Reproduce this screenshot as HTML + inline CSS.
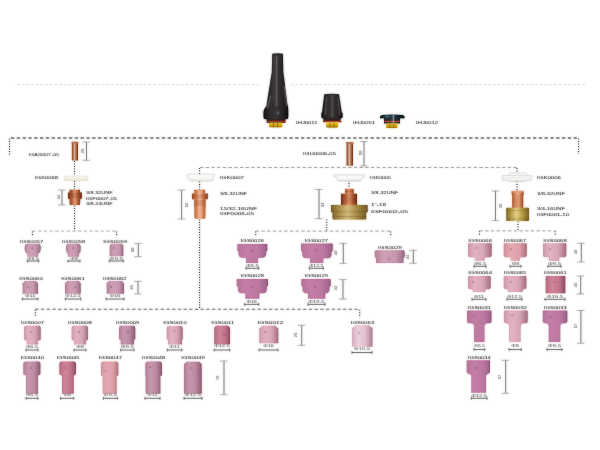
<!DOCTYPE html><html><head><meta charset="utf-8"><style>html,body{margin:0;padding:0;background:#fff;width:600px;height:450px;overflow:hidden}#wrap{width:600px;height:450px}svg{display:block;will-change:transform;font-family:"Liberation Sans",sans-serif}</style></head><body><div id="wrap">
<svg width="600" height="450" viewBox="0 0 600 450">
<defs>
<linearGradient id="pk1" x1="0" x2="1" y1="0" y2="0"><stop offset="0" stop-color="#b48298"/><stop offset="0.3" stop-color="#d0a0b8"/><stop offset="0.7" stop-color="#c698ae"/><stop offset="0.92" stop-color="#a47690"/><stop offset="1" stop-color="#8a6076"/></linearGradient>
<linearGradient id="pk2" x1="0" x2="1" y1="0" y2="0"><stop offset="0" stop-color="#b47498"/><stop offset="0.3" stop-color="#c47ea6"/><stop offset="0.7" stop-color="#bc78a0"/><stop offset="0.92" stop-color="#a46890"/><stop offset="1" stop-color="#8c5478"/></linearGradient>
<linearGradient id="pk3" x1="0" x2="1" y1="0" y2="0"><stop offset="0" stop-color="#cc98aa"/><stop offset="0.3" stop-color="#e4b2c4"/><stop offset="0.65" stop-color="#d8a6b8"/><stop offset="0.9" stop-color="#b47e90"/><stop offset="1" stop-color="#9a6a7a"/></linearGradient>
<linearGradient id="pk7" x1="0" x2="1" y1="0" y2="0"><stop offset="0" stop-color="#d4acbe"/><stop offset="0.3" stop-color="#ecd0dc"/><stop offset="0.65" stop-color="#e2c0d0"/><stop offset="0.9" stop-color="#bc90a4"/><stop offset="1" stop-color="#a07a8a"/></linearGradient>
<linearGradient id="pk8" x1="0" x2="1" y1="0" y2="0"><stop offset="0" stop-color="#b86080"/><stop offset="0.15" stop-color="#d08098"/><stop offset="0.5" stop-color="#dea2b4"/><stop offset="0.85" stop-color="#d698ac"/><stop offset="1" stop-color="#b07088"/></linearGradient>
<linearGradient id="pk6" x1="0" x2="1" y1="0" y2="0"><stop offset="0" stop-color="#b07c94"/><stop offset="0.3" stop-color="#c898b0"/><stop offset="0.65" stop-color="#bc8aa2"/><stop offset="0.9" stop-color="#9a6680"/><stop offset="1" stop-color="#86586e"/></linearGradient>
<linearGradient id="pk4" x1="0" x2="1" y1="0" y2="0"><stop offset="0" stop-color="#cc9098"/><stop offset="0.3" stop-color="#e6aab4"/><stop offset="0.7" stop-color="#dca0aa"/><stop offset="0.92" stop-color="#bc7e88"/><stop offset="1" stop-color="#9a646c"/></linearGradient>
<linearGradient id="pk5" x1="0" x2="1" y1="0" y2="0"><stop offset="0" stop-color="#b46a80"/><stop offset="0.35" stop-color="#d28499"/><stop offset="0.7" stop-color="#c2748a"/><stop offset="0.9" stop-color="#9e5a6e"/><stop offset="1" stop-color="#864a5e"/></linearGradient>
<linearGradient id="cu" x1="0" x2="1" y1="0" y2="0"><stop offset="0" stop-color="#9a5028"/><stop offset="0.3" stop-color="#d8845a"/><stop offset="0.5" stop-color="#f4bc9c"/><stop offset="0.75" stop-color="#c87044"/><stop offset="1" stop-color="#8e4622"/></linearGradient>
<linearGradient id="cut" x1="0" x2="1" y1="0" y2="0"><stop offset="0" stop-color="#7a3c20"/><stop offset="0.22" stop-color="#a8603c"/><stop offset="0.45" stop-color="#ead0c0"/><stop offset="0.6" stop-color="#b8704c"/><stop offset="0.85" stop-color="#8a4828"/><stop offset="1" stop-color="#6a3018"/></linearGradient>
<linearGradient id="cud" x1="0" x2="1" y1="0" y2="0"><stop offset="0" stop-color="#7a3418"/><stop offset="0.3" stop-color="#bc6438"/><stop offset="0.5" stop-color="#e09870"/><stop offset="0.75" stop-color="#a85430"/><stop offset="1" stop-color="#6a2e14"/></linearGradient>
<linearGradient id="brd" x1="0" x2="1" y1="0" y2="0"><stop offset="0" stop-color="#7a6028"/><stop offset="0.25" stop-color="#b09450"/><stop offset="0.45" stop-color="#d4bc7c"/><stop offset="0.7" stop-color="#a88c44"/><stop offset="1" stop-color="#705824"/></linearGradient>
<linearGradient id="cr" x1="0" x2="0" y1="0" y2="1"><stop offset="0" stop-color="#fcfbf4"/><stop offset="0.6" stop-color="#f3f1e4"/><stop offset="1" stop-color="#e2dcc8"/></linearGradient>
<linearGradient id="br" x1="0" x2="1" y1="0" y2="0"><stop offset="0" stop-color="#806826"/><stop offset="0.25" stop-color="#c0a650"/><stop offset="0.45" stop-color="#e4d088"/><stop offset="0.7" stop-color="#b89c44"/><stop offset="1" stop-color="#786022"/></linearGradient>
<linearGradient id="gd" x1="0" x2="0" y1="0" y2="1"><stop offset="0" stop-color="#f0d030"/><stop offset="0.6" stop-color="#d8a810"/><stop offset="1" stop-color="#a07808"/></linearGradient>
<linearGradient id="bk" x1="0" x2="1" y1="0" y2="0"><stop offset="0" stop-color="#151212"/><stop offset="0.25" stop-color="#2e2a2a"/><stop offset="0.5" stop-color="#3a3636"/><stop offset="0.75" stop-color="#2a2626"/><stop offset="1" stop-color="#121010"/></linearGradient>
<linearGradient id="bl" x1="0" x2="1" y1="0" y2="0"><stop offset="0" stop-color="#0c1416"/><stop offset="0.3" stop-color="#2a4450"/><stop offset="0.6" stop-color="#1c3038"/><stop offset="1" stop-color="#0a1012"/></linearGradient>
<linearGradient id="wh" x1="0" x2="0" y1="0" y2="1"><stop offset="0" stop-color="#ffffff"/><stop offset="0.65" stop-color="#f8f8f6"/><stop offset="1" stop-color="#e0e0dc"/></linearGradient>
</defs>
<filter id="sb" x="-2%" y="-2%" width="104%" height="104%"><feGaussianBlur stdDeviation="0.8"/></filter>
<g id="content">
<line x1="17" y1="84.7" x2="260" y2="84.7" stroke="#dcdcdc" stroke-width="1.0" stroke-dasharray="2.5 2.2" opacity="1"/>
<line x1="291" y1="84.7" x2="585" y2="84.7" stroke="#dcdcdc" stroke-width="1.0" stroke-dasharray="2.5 2.2" opacity="1"/>
<line x1="11" y1="138" x2="579" y2="138" stroke="#7a7a7a" stroke-width="1.3" stroke-dasharray="3.3 2.5" opacity="1"/>
<line x1="9.5" y1="138.5" x2="9.5" y2="155.5" stroke="#404040" stroke-width="1.1" stroke-dasharray="1 1.5"/>
<line x1="578.5" y1="138.5" x2="578.5" y2="154" stroke="#404040" stroke-width="1.1" stroke-dasharray="1 1.5"/>
<path d="M82.5 142H90M82.5 160.3H90" stroke="#a0a0a0" stroke-width="0.7" fill="none"/>
<path d="M86.5 142V160.3" stroke="#858585" stroke-width="0.95" fill="none"/>
<line x1="74.5" y1="161" x2="74.5" y2="176" stroke="#404040" stroke-width="1.1" stroke-dasharray="1 1.5"/>
<line x1="74.5" y1="181" x2="74.5" y2="190" stroke="#404040" stroke-width="1.1" stroke-dasharray="1 1.5"/>
<path d="M58 190H65.5M58 205H65.5" stroke="#a0a0a0" stroke-width="0.7" fill="none"/>
<path d="M62 190V205" stroke="#858585" stroke-width="0.95" fill="none"/>
<line x1="74.5" y1="205.5" x2="74.5" y2="231" stroke="#404040" stroke-width="1.1" stroke-dasharray="1 1.5"/>
<line x1="32.4" y1="231.2" x2="116.7" y2="231.2" stroke="#c8c8c8" stroke-width="1.2" stroke-dasharray="3.3 2.4" opacity="1"/>
<line x1="32.4" y1="231.5" x2="32.4" y2="236" stroke="#404040" stroke-width="1.1" stroke-dasharray="1 1.5"/>
<line x1="116.7" y1="231.5" x2="116.7" y2="236" stroke="#404040" stroke-width="1.1" stroke-dasharray="1 1.5"/>
<path d="M27.3 261H38.7M27.3 259.6V262.4M38.7 259.6V262.4" stroke="#505050" stroke-width="0.7" fill="none"/>
<path d="M68 261H80M68 259.6V262.4M80 259.6V262.4" stroke="#505050" stroke-width="0.7" fill="none"/>
<path d="M109.3 261H123.3M109.3 259.6V262.4M123.3 259.6V262.4" stroke="#505050" stroke-width="0.7" fill="none"/>
<path d="M134.3 243.4H141.8M134.3 256.7H141.8" stroke="#a0a0a0" stroke-width="0.7" fill="none"/>
<path d="M138.3 243.4V256.7" stroke="#858585" stroke-width="0.95" fill="none"/>
<path d="M22.3 299H38M22.3 297.6V300.4M38 297.6V300.4" stroke="#505050" stroke-width="0.7" fill="none"/>
<path d="M65.3 299H80.7M65.3 297.6V300.4M80.7 297.6V300.4" stroke="#505050" stroke-width="0.7" fill="none"/>
<path d="M106 299H124M106 297.6V300.4M124 297.6V300.4" stroke="#505050" stroke-width="0.7" fill="none"/>
<path d="M134 281.3H141.5M134 294H141.5" stroke="#a0a0a0" stroke-width="0.7" fill="none"/>
<path d="M138 281.3V294" stroke="#858585" stroke-width="0.95" fill="none"/>
<line x1="200" y1="167.5" x2="517" y2="167.5" stroke="#ababab" stroke-width="1.2" stroke-dasharray="3.3 2.4" opacity="1"/>
<line x1="199.6" y1="168" x2="199.6" y2="174" stroke="#404040" stroke-width="1.1" stroke-dasharray="1 1.5"/>
<line x1="199.6" y1="181.5" x2="199.6" y2="190" stroke="#404040" stroke-width="1.1" stroke-dasharray="1 1.5"/>
<path d="M177.6 190H185.1M177.6 219H185.1" stroke="#a0a0a0" stroke-width="0.7" fill="none"/>
<path d="M181.6 190V219" stroke="#858585" stroke-width="0.95" fill="none"/>
<line x1="199.6" y1="219.5" x2="199.6" y2="309" stroke="#404040" stroke-width="1.1" stroke-dasharray="1 1.5"/>
<path d="M360 141.5H367.5M360 166H367.5" stroke="#a0a0a0" stroke-width="0.7" fill="none"/>
<path d="M364 141.5V166" stroke="#858585" stroke-width="0.95" fill="none"/>
<line x1="349" y1="180.5" x2="349" y2="187" stroke="#404040" stroke-width="1.1" stroke-dasharray="1 1.5"/>
<path d="M315 189.5H322.5M315 218.7H322.5" stroke="#a0a0a0" stroke-width="0.7" fill="none"/>
<path d="M319 189.5V218.7" stroke="#858585" stroke-width="0.95" fill="none"/>
<line x1="326.7" y1="219.5" x2="326.7" y2="231" stroke="#404040" stroke-width="1.1" stroke-dasharray="1 1.5"/>
<line x1="255.7" y1="231.2" x2="390.8" y2="231.2" stroke="#bdbdbd" stroke-width="1.2" stroke-dasharray="3.3 2.4" opacity="1"/>
<line x1="255.7" y1="231.5" x2="255.7" y2="235.5" stroke="#404040" stroke-width="1.1" stroke-dasharray="1 1.5"/>
<line x1="390.8" y1="231.5" x2="390.8" y2="235.5" stroke="#404040" stroke-width="1.1" stroke-dasharray="1 1.5"/>
<path d="M246 268.3H258.7M246 266.9V269.7M258.7 266.9V269.7" stroke="#505050" stroke-width="0.7" fill="none"/>
<path d="M309.3 268.3H323.3M309.3 266.9V269.7M323.3 266.9V269.7" stroke="#505050" stroke-width="0.7" fill="none"/>
<path d="M339.3 243.4H346.8M339.3 263.4H346.8" stroke="#a0a0a0" stroke-width="0.7" fill="none"/>
<path d="M343.3 243.4V263.4" stroke="#858585" stroke-width="0.95" fill="none"/>
<path d="M409.3 250.3H416.8M409.3 263.3H416.8" stroke="#a0a0a0" stroke-width="0.7" fill="none"/>
<path d="M413.3 250.3V263.3" stroke="#858585" stroke-width="0.95" fill="none"/>
<path d="M244.7 304.4H258.7M244.7 303V305.8M258.7 303V305.8" stroke="#505050" stroke-width="0.7" fill="none"/>
<path d="M308 304.4H325M308 303V305.8M325 303V305.8" stroke="#505050" stroke-width="0.7" fill="none"/>
<path d="M339 279.6H346.5M339 299H346.5" stroke="#a0a0a0" stroke-width="0.7" fill="none"/>
<path d="M343 279.6V299" stroke="#858585" stroke-width="0.95" fill="none"/>
<line x1="35.3" y1="309.25" x2="359.7" y2="309.25" stroke="#7c7c7c" stroke-width="1.2" stroke-dasharray="3.3 2.4" opacity="1"/>
<line x1="35.3" y1="309.8" x2="35.3" y2="317" stroke="#404040" stroke-width="1.1" stroke-dasharray="1 1.5"/>
<line x1="359.7" y1="309.8" x2="359.7" y2="317.5" stroke="#404040" stroke-width="1.1" stroke-dasharray="1 1.5"/>
<path d="M26 350H38M26 348.6V351.4M38 348.6V351.4" stroke="#505050" stroke-width="0.7" fill="none"/>
<path d="M74 350H86M74 348.6V351.4M86 348.6V351.4" stroke="#505050" stroke-width="0.7" fill="none"/>
<path d="M120.7 350H134M120.7 348.6V351.4M134 348.6V351.4" stroke="#505050" stroke-width="0.7" fill="none"/>
<path d="M167.3 350H182M167.3 348.6V351.4M182 348.6V351.4" stroke="#505050" stroke-width="0.7" fill="none"/>
<path d="M214.2 350H229.7M214.2 348.6V351.4M229.7 348.6V351.4" stroke="#505050" stroke-width="0.7" fill="none"/>
<path d="M259 350H278M259 348.6V351.4M278 348.6V351.4" stroke="#505050" stroke-width="0.7" fill="none"/>
<path d="M297.7 325.3H305.2M297.7 345.3H305.2" stroke="#a0a0a0" stroke-width="0.7" fill="none"/>
<path d="M301.7 325.3V345.3" stroke="#858585" stroke-width="0.95" fill="none"/>
<path d="M352 352.5H372M352 351.1V353.9M372 351.1V353.9" stroke="#505050" stroke-width="0.7" fill="none"/>
<path d="M26 398.3H38M26 396.9V399.7M38 396.9V399.7" stroke="#505050" stroke-width="0.7" fill="none"/>
<path d="M60.7 398.3H73.7M60.7 396.9V399.7M73.7 396.9V399.7" stroke="#505050" stroke-width="0.7" fill="none"/>
<path d="M103.3 398.3H117.3M103.3 396.9V399.7M117.3 396.9V399.7" stroke="#505050" stroke-width="0.7" fill="none"/>
<path d="M145 398.3H160M145 396.9V399.7M160 396.9V399.7" stroke="#505050" stroke-width="0.7" fill="none"/>
<path d="M184 398.3H202M184 396.9V399.7M202 396.9V399.7" stroke="#505050" stroke-width="0.7" fill="none"/>
<path d="M220 361H227.5M220 394.7H227.5" stroke="#a0a0a0" stroke-width="0.7" fill="none"/>
<path d="M224 361V394.7" stroke="#858585" stroke-width="0.95" fill="none"/>
<line x1="517" y1="168" x2="517" y2="173" stroke="#404040" stroke-width="1.1" stroke-dasharray="1 1.5"/>
<line x1="517" y1="181.5" x2="517" y2="191" stroke="#404040" stroke-width="1.1" stroke-dasharray="1 1.5"/>
<path d="M491.5 191H499M491.5 220.5H499" stroke="#a0a0a0" stroke-width="0.7" fill="none"/>
<path d="M495.5 191V220.5" stroke="#858585" stroke-width="0.95" fill="none"/>
<line x1="518" y1="221.5" x2="518" y2="231" stroke="#404040" stroke-width="1.1" stroke-dasharray="1 1.5"/>
<line x1="479.5" y1="230.9" x2="555.2" y2="230.9" stroke="#bdbdbd" stroke-width="1.2" stroke-dasharray="3.3 2.4" opacity="1"/>
<line x1="479.5" y1="231.2" x2="479.5" y2="235.3" stroke="#404040" stroke-width="1.1" stroke-dasharray="1 1.5"/>
<line x1="555.2" y1="231.2" x2="555.2" y2="235.3" stroke="#404040" stroke-width="1.1" stroke-dasharray="1 1.5"/>
<path d="M474 266.3H486M474 264.9V267.7M486 264.9V267.7" stroke="#505050" stroke-width="0.7" fill="none"/>
<path d="M510 266.3H521M510 264.9V267.7M521 264.9V267.7" stroke="#505050" stroke-width="0.7" fill="none"/>
<path d="M548 266.3H561M548 264.9V267.7M561 264.9V267.7" stroke="#505050" stroke-width="0.7" fill="none"/>
<path d="M577.3 243.3H584.8M577.3 262H584.8" stroke="#a0a0a0" stroke-width="0.7" fill="none"/>
<path d="M581.3 243.3V262" stroke="#858585" stroke-width="0.95" fill="none"/>
<path d="M472 299.3H486M472 297.9V300.7M486 297.9V300.7" stroke="#505050" stroke-width="0.7" fill="none"/>
<path d="M507 299.3H522M507 297.9V300.7M522 297.9V300.7" stroke="#505050" stroke-width="0.7" fill="none"/>
<path d="M545 299.3H565M545 297.9V300.7M565 297.9V300.7" stroke="#505050" stroke-width="0.7" fill="none"/>
<path d="M576.7 276H584.2M576.7 294H584.2" stroke="#a0a0a0" stroke-width="0.7" fill="none"/>
<path d="M580.7 276V294" stroke="#858585" stroke-width="0.95" fill="none"/>
<path d="M474 349.5H484.7M474 348.1V350.9M484.7 348.1V350.9" stroke="#505050" stroke-width="0.7" fill="none"/>
<path d="M509 349.5H521.3M509 348.1V350.9M521.3 348.1V350.9" stroke="#505050" stroke-width="0.7" fill="none"/>
<path d="M547 349.5H562M547 348.1V350.9M562 348.1V350.9" stroke="#505050" stroke-width="0.7" fill="none"/>
<path d="M576.9 310.5H584.4M576.9 343.2H584.4" stroke="#a0a0a0" stroke-width="0.7" fill="none"/>
<path d="M580.9 310.5V343.2" stroke="#858585" stroke-width="0.95" fill="none"/>
<path d="M471.3 398.3H487M471.3 396.9V399.7M487 396.9V399.7" stroke="#505050" stroke-width="0.7" fill="none"/>
<path d="M501.7 360.3H509.2M501.7 393.3H509.2" stroke="#a0a0a0" stroke-width="0.7" fill="none"/>
<path d="M505.7 360.3V393.3" stroke="#858585" stroke-width="0.95" fill="none"/>
<path d="M266.7 118.5H285.3V122.8H266.7Z" fill="#231c1c"/>
<rect x="267" y="120.8" width="18.5" height="1.1" fill="#c03020"/>
<rect x="269" y="122.8" width="13.3" height="4.4" rx="1.2" fill="url(#gd)"/>
<path d="M273.3 123V127.2M277.5 123V127.2" stroke="#6a4a00" stroke-width="0.8"/>
<path d="M272.2 53.8Q277.5 52.8 282.9 53.8L283.3 72L287.4 104Q288.3 107 288.3 110V117Q288.3 119.3 285.3 119.3H266.7Q263.5 119.3 263.5 117V111.5Q263.8 108.8 266.3 106.5L271.8 72Z" fill="url(#bk)"/>
<path d="M276.6 56V106M284.2 86L287 106M270.5 96L267.5 108" stroke="#8a8686" stroke-width="1.0" opacity="0.75"/>
<path d="M273.8 58V100" stroke="#5a5656" stroke-width="0.8" opacity="0.6"/>
<ellipse cx="278" cy="113" rx="0.8" ry="1.5" fill="#8a9ab0" opacity="0.8"/>
<path d="M323.5 118H340.5V121.8H323.5Z" fill="#231c1c"/>
<rect x="323" y="121" width="18.7" height="1.2" fill="#c03020"/>
<rect x="326.1" y="122.6" width="12" height="4.8" rx="1.2" fill="url(#gd)"/>
<path d="M330 123V127.4M334 123V127.4" stroke="#6a4a00" stroke-width="0.8"/>
<path d="M324.3 94.2Q331.7 93.3 339 94.2L341.7 112.2L342.6 113V117Q342.6 118.6 340.5 118.6H323.5Q321.4 118.6 321.4 117V113L322.1 112.2Z" fill="url(#bk)"/>
<path d="M332.3 95V117M326.5 97L325 115M338 97L339.5 115" stroke="#7a7676" stroke-width="0.9" opacity="0.7"/>
<path d="M384 117.5H400V123.2Q400 123.6 399.5 123.6H384.5Q384 123.6 384 123.2Z" fill="#16262c"/>
<rect x="384" y="120.9" width="16" height="1.1" fill="#c84030"/>
<rect x="386.1" y="123.4" width="11.4" height="4.6" rx="1.2" fill="url(#gd)"/>
<path d="M389.8 123.5V127.8M393.6 123.5V127.8" stroke="#6a4a00" stroke-width="0.8"/>
<path d="M380 116.8Q380 115.2 382.5 114.9Q392 114.3 402 114.9Q404.5 115.2 404.5 116.8V117.9Q404.5 118.3 404 118.3H380.5Q380 118.3 380 117.9Z" fill="url(#bl)"/>
<path d="M393.3 114.8V123.4" stroke="#e8f0f8" stroke-width="0.9" opacity="0.85"/>
<path d="M385 116.5H389" stroke="#8aa0b0" stroke-width="0.7" opacity="0.7"/>
<rect x="71.9" y="142" width="6.1" height="18.6" rx="0.8" fill="url(#cut)"/>
<rect x="71.5" y="141.8" width="6.9" height="1.8" rx="0.6" fill="#b87454"/>
<rect x="64.3" y="176" width="23.7" height="4.6" rx="1.8" fill="url(#cr)" stroke="#ddd8c0" stroke-width="0.5"/>
<path d="M69.5 189.8H80V192.5H81.8V198.8H80.3L80 204.5Q80 205 79.3 205H70.5Q69.8 205 69.8 204.5L69.5 198.8H68V192.5H69.5Z" fill="url(#cud)"/>
<path d="M68 193.3H81.8M68 195.2H81.8M68 197.1H81.8" stroke="#6a2c10" stroke-width="0.55" opacity="0.8"/>
<path d="M74.9 190V205" stroke="#f0d0b8" stroke-width="0.9" stroke-dasharray="1 1.2" opacity="0.8"/>
<path d="M27.2 243.7H38.2Q40.7 243.7 40.7 247.2V249.55Q40.7 252.55 38 254.05V256.7H27.3V254.05Q24.7 252.55 24.7 249.55V247.2Q24.7 243.7 27.2 243.7Z" fill="url(#pk1)"/>
<rect x="31.3" y="247.4" width="1.6" height="1.2" fill="#5a3040" opacity="0.7"/>
<path d="M68.5 243.7H78.2Q80.7 243.7 80.7 247.2V249.55Q80.7 252.55 79 254.05V256.7H68V254.05Q66 252.55 66 249.55V247.2Q66 243.7 68.5 243.7Z" fill="url(#pk1)"/>
<rect x="72.3" y="247.4" width="1.6" height="1.2" fill="#5a3040" opacity="0.7"/>
<path d="M111.5 243.7H121.5L123.3 245.5V256.3H109.7V245.5Z" fill="url(#pk1)"/>
<rect x="113.3" y="247.4" width="1.6" height="1.2" fill="#5a3040" opacity="0.7"/>
<path d="M24.9 281H35.8L38 283.2V293.7H22.7V283.2Z" fill="url(#pk1)"/>
<rect x="27.3" y="286.4" width="1.6" height="1.2" fill="#5a3040" opacity="0.7"/>
<path d="M67.2 281H78.5L80.7 283.2V293.7H65V283.2Z" fill="url(#pk1)"/>
<rect x="74.3" y="286.4" width="1.6" height="1.2" fill="#5a3040" opacity="0.7"/>
<path d="M108.9 281H121.8L124 283.2V293.7H106.7V283.2Z" fill="url(#pk1)"/>
<rect x="110.3" y="286.4" width="1.6" height="1.2" fill="#5a3040" opacity="0.7"/>
<path d="M188 174.2H213.8Q214.3 174.2 214.2 175L213.3 179Q212.6 181.1 210 181.1H191.5Q189 181.1 188.4 179L187.3 175Q187.2 174.2 188 174.2Z" fill="url(#wh)" stroke="#c8c8c4" stroke-width="0.6"/>
<path d="M194.2 189.8H205V193.5H207.8V199.2H205.6L205.3 217.8Q205.2 218.8 204.3 218.8H195.5Q194.6 218.8 194.5 217.8L194.2 199.2H192V193.5H194.2Z" fill="url(#cu)"/>
<path d="M192 195.3H207.8M192 197.2H207.8M194.3 201H205.5M194.3 203H205.5M194.3 205H205.5" stroke="#6a2c10" stroke-width="0.5" opacity="0.75"/>
<path d="M199.8 190V218.5" stroke="#f0d0b8" stroke-width="0.9" stroke-dasharray="1 1.2" opacity="0.7"/>
<rect x="346.6" y="142" width="6.4" height="23.7" rx="0.8" fill="url(#cut)"/>
<rect x="346.2" y="141.9" width="7.3" height="2.2" rx="0.6" fill="#b87454"/>
<path d="M333.8 175H364.5Q365.5 175.2 365 176.2L361.8 177.4V179.2Q361.6 181 359.3 181H339.5Q337.2 181 337 179.2V177.4L333.6 176.2Q333 175.2 333.8 175Z" fill="url(#wh)" stroke="#c4c4c0" stroke-width="0.6"/>
<path d="M345 189Q349.3 188.3 353.7 189V193.7H357V205H341V193.7H345Z" fill="url(#cud)"/>
<path d="M345 191.5H353.7M341 196H357M341 198.5H357M341 201H357" stroke="#6a2c10" stroke-width="0.5" opacity="0.6"/>
<path d="M331.5 205H367.2Q367.7 205 367.7 205.6V211.8L366.2 212.5V218.6Q366.2 219.6 365.2 219.6H333.5Q332.5 219.6 332.5 218.6V212.5L331 211.8V205.6Q331 205 331.5 205Z" fill="url(#brd)"/>
<path d="M331 211.8H367.7M332.5 216.5H366.2" stroke="#5a4410" stroke-width="0.55" opacity="0.6"/>
<path d="M237.9 243.9H266.7Q267.3 243.9 267.3 244.5V251L266.1 251.5V253.7Q266.1 257.7 262.1 257.7H259Q258 257.7 258 258.7V263H246V258.7Q246 257.7 245 257.7H242.5Q238.5 257.7 238.5 253.7V251.5L237.3 251V244.5Q237.3 243.9 237.9 243.9Z" fill="url(#pk2)"/>
<rect x="251.3" y="250.4" width="1.6" height="1.2" fill="#5a3040" opacity="0.7"/>
<path d="M301.6 243.4H332.1Q332.7 243.4 332.7 244V251L331.5 251.5V254.3Q331.5 258.3 327.5 258.3H324.3Q323.3 258.3 323.3 259.3V263H310V259.3Q310 258.3 309 258.3H306.2Q302.2 258.3 302.2 254.3V251.5L301 251V244Q301 243.4 301.6 243.4Z" fill="url(#pk2)"/>
<rect x="315.3" y="249.4" width="1.6" height="1.2" fill="#5a3040" opacity="0.7"/>
<path d="M375.9 250.3H403.5L404.7 251.5V257L403.5 257.8V263H376V257.8L374.7 257V251.5Z" fill="url(#pk1)"/>
<rect x="388.3" y="258.4" width="1.6" height="1.2" fill="#5a3040" opacity="0.7"/>
<path d="M237.3 279H267.4Q268 279 268 279.6V286L266.8 286.5V289.3Q266.8 293.3 262.8 293.3H260.3Q259.3 293.3 259.3 294.3V298.7H245.3V294.3Q245.3 293.3 244.3 293.3H241.9Q237.9 293.3 237.9 289.3V286.5L236.7 286V279.6Q236.7 279 237.3 279Z" fill="url(#pk2)"/>
<rect x="251.3" y="286.4" width="1.6" height="1.2" fill="#5a3040" opacity="0.7"/>
<path d="M301.9 279H330.1Q330.7 279 330.7 279.6V286L329.5 286.5V289.3Q329.5 293.3 325.5 293.3H326.3Q325.3 293.3 325.3 294.3V298.7H308V294.3Q308 293.3 307 293.3H306.5Q302.5 293.3 302.5 289.3V286.5L301.3 286V279.6Q301.3 279 301.9 279Z" fill="url(#pk2)"/>
<rect x="314.3" y="286.4" width="1.6" height="1.2" fill="#5a3040" opacity="0.7"/>
<path d="M26.2 325.7H38.5Q40.7 325.7 40.7 327.9V339.1Q40.7 340.3 39.5 340.3H38.9Q38 340.3 38 341.2V344.6H26.7V341.2Q26.7 340.3 25.8 340.3H25.2Q24 340.3 24 339.1V327.9Q24 325.7 26.2 325.7Z" fill="url(#pk3)"/>
<rect x="30.3" y="331.4" width="1.6" height="1.2" fill="#5a3040" opacity="0.7"/>
<path d="M73.8 325.7H85.8Q88 325.7 88 327.9V339.1Q88 340.3 86.8 340.3H86.9Q86 340.3 86 341.2V344.6H74V341.2Q74 340.3 73.1 340.3H72.8Q71.6 340.3 71.6 339.1V327.9Q71.6 325.7 73.8 325.7Z" fill="url(#pk3)"/>
<rect x="78.3" y="331.4" width="1.6" height="1.2" fill="#5a3040" opacity="0.7"/>
<path d="M121.2 325.7H133.1Q135.3 325.7 135.3 327.9V338.8Q135.3 339.5 134.6 339.5H134.7Q134 339.5 134 340.2V344.6H120.7V340.2Q120.7 339.5 120 339.5H119.7Q119 339.5 119 338.8V327.9Q119 325.7 121.2 325.7Z" fill="url(#pk6)"/>
<rect x="127.3" y="331.4" width="1.6" height="1.2" fill="#5a3040" opacity="0.7"/>
<path d="M168.9 326H180.5Q182.7 326 182.7 328.2V338.8Q182.7 339.5 182 339.5H182.7Q182 339.5 182 340.2V344.6H168V340.2Q168 339.5 167.3 339.5H167.4Q166.7 339.5 166.7 338.8V328.2Q166.7 326 168.9 326Z" fill="url(#pk3)"/>
<rect x="173.3" y="330.4" width="1.6" height="1.2" fill="#5a3040" opacity="0.7"/>
<path d="M216.2 325.8H228L230 327.8V344.2H214.2V327.8Z" fill="url(#pk5)"/>
<rect x="223.3" y="334.4" width="1.6" height="1.2" fill="#5a3040" opacity="0.7"/>
<path d="M262.9 325.8H274.6Q275.8 325.8 276.1 327L278 328Q278.3 328.6 278.3 329.4V342.5Q278.3 343.3 277.5 343.3H260Q259.2 343.3 259.2 342.5V329.4Q259.2 328.6 259.5 328L261.4 327Q261.7 325.8 262.9 325.8Z" fill="url(#pk3)"/>
<rect x="264.3" y="331.4" width="1.6" height="1.2" fill="#5a3040" opacity="0.7"/>
<path d="M356.2 325.3H368.3Q369.5 325.3 369.8 326.5L372.2 327.7Q372.5 328.3 372.5 329.1V345.9Q372.5 346.7 371.7 346.7H352.8Q352 346.7 352 345.9V329.1Q352 328.3 352.3 327.7L354.7 326.5Q355 325.3 356.2 325.3Z" fill="url(#pk7)"/>
<rect x="358.3" y="332.4" width="1.6" height="1.2" fill="#5a3040" opacity="0.7"/>
<path d="M25.8 361.4H37.9Q40.4 361.4 40.4 363.9V373.6Q40.4 375 39 375H39.2Q38 375 38 376.2V393.7H26V376.2Q26 375 24.8 375H24.7Q23.3 375 23.3 373.6V363.9Q23.3 361.4 25.8 361.4Z" fill="url(#pk6)"/>
<rect x="30.3" y="367.4" width="1.6" height="1.2" fill="#5a3040" opacity="0.7"/>
<path d="M61.8 361.4H73.5Q76 361.4 76 363.9V373.6Q76 375 74.6 375H74.9Q73.7 375 73.7 376.2V393.7H62V376.2Q62 375 60.8 375H60.7Q59.3 375 59.3 373.6V363.9Q59.3 361.4 61.8 361.4Z" fill="url(#pk5)"/>
<rect x="64.3" y="367.4" width="1.6" height="1.2" fill="#5a3040" opacity="0.7"/>
<path d="M103.5 361.4H115.8Q118.3 361.4 118.3 363.9V375Q118.3 375.7 117.6 375.7H117.4Q116.7 375.7 116.7 376.4V393.7H102.7V376.4Q102.7 375.7 102 375.7H101.7Q101 375.7 101 375V363.9Q101 361.4 103.5 361.4Z" fill="url(#pk4)"/>
<rect x="105.3" y="370.4" width="1.6" height="1.2" fill="#5a3040" opacity="0.7"/>
<path d="M147.8 361.4H159.5Q162 361.4 162 363.9V375Q162 375.7 161.3 375.7H161.1Q160.4 375.7 160.4 376.4V393.7H145.7V376.4Q145.7 375.7 145 375.7H146Q145.3 375.7 145.3 375V363.9Q145.3 361.4 147.8 361.4Z" fill="url(#pk6)"/>
<rect x="149.3" y="366.4" width="1.6" height="1.2" fill="#5a3040" opacity="0.7"/>
<path d="M186.5 361.7H199.2L201.7 364.2V393.7H184V364.2Z" fill="url(#pk6)"/>
<rect x="190.3" y="367.4" width="1.6" height="1.2" fill="#5a3040" opacity="0.7"/>
<path d="M502.8 175.6H531Q531.8 175.6 531.8 176.5V179Q531.8 180.2 530.5 180.2H527L526 181.3H509.5L508.3 180.2H504Q502.3 180.2 502.3 179V176.5Q502.3 175.6 502.8 175.6Z" fill="url(#wh)" stroke="#c4c4c0" stroke-width="0.6"/>
<path d="M507.8 175.6Q508.5 173 511 172.9H524.5Q527 173 527.8 175.6Z" fill="#fbfbfa" stroke="#c8c8c4" stroke-width="0.55"/>
<path d="M503 177.8H531" stroke="#d8d8d4" stroke-width="0.6"/>
<path d="M511.7 191H523.7V194.5L523.2 195.2V208.5H512.2V195.2L511.7 194.5Z" fill="url(#cu)"/>
<rect x="511.5" y="190.8" width="12.4" height="1.6" rx="0.6" fill="#e0a080"/>
<path d="M517.3 195V208" stroke="#7a3418" stroke-width="0.8" opacity="0.6"/>
<path d="M506.3 208.7Q506.3 207.7 507.5 207.7H527.8Q529 207.7 529 208.7V219.8Q529 221 527.8 221H507.5Q506.3 221 506.3 219.8Z" fill="url(#br)"/>
<path d="M506.3 210.5H529M506.3 219H529" stroke="#5a4410" stroke-width="0.55" opacity="0.6"/>
<path d="M469 243.3H490.7Q491.7 243.3 491.7 244.3V255.1Q491.7 257.3 489.5 257.3H486Q484.7 257.3 484.7 258.6V260.8H474.7V258.6Q474.7 257.3 473.4 257.3H470.2Q468 257.3 468 255.1V244.3Q468 243.3 469 243.3Z" fill="url(#pk3)"/>
<rect x="475.3" y="247.4" width="1.6" height="1.2" fill="#5a3040" opacity="0.7"/>
<path d="M504.7 243.3H525.7Q526.7 243.3 526.7 244.3V255.1Q526.7 257.3 524.5 257.3H521.3Q520 257.3 520 258.6V260.8H510.7V258.6Q510.7 257.3 509.4 257.3H505.9Q503.7 257.3 503.7 255.1V244.3Q503.7 243.3 504.7 243.3Z" fill="url(#pk4)"/>
<rect x="510.3" y="248.4" width="1.6" height="1.2" fill="#5a3040" opacity="0.7"/>
<path d="M544 243.3H565.3Q566.3 243.3 566.3 244.3V255.1Q566.3 257.3 564.1 257.3H560.6Q559.3 257.3 559.3 258.6V261H548.7V258.6Q548.7 257.3 547.4 257.3H545.2Q543 257.3 543 255.1V244.3Q543 243.3 544 243.3Z" fill="url(#pk3)"/>
<rect x="549.3" y="248.4" width="1.6" height="1.2" fill="#5a3040" opacity="0.7"/>
<path d="M469 276H489.7Q490.7 276 490.7 277V287.1Q490.7 289.3 488.5 289.3H486.6Q485.3 289.3 485.3 290.6V292H472.7V290.6Q472.7 289.3 471.4 289.3H470.2Q468 289.3 468 287.1V277Q468 276 469 276Z" fill="url(#pk3)"/>
<rect x="472.3" y="281.4" width="1.6" height="1.2" fill="#5a3040" opacity="0.7"/>
<path d="M504.7 276H525.4Q526.4 276 526.4 277V287.1Q526.4 289.3 524.2 289.3H524Q522.7 289.3 522.7 290.6V292H508V290.6Q508 289.3 506.7 289.3H505.9Q503.7 289.3 503.7 287.1V277Q503.7 276 504.7 276Z" fill="url(#pk3)"/>
<rect x="510.3" y="281.4" width="1.6" height="1.2" fill="#5a3040" opacity="0.7"/>
<path d="M546.3 276H564.7L565.3 276.6V293.3H545.7V276.6Z" fill="url(#pk5)"/>
<rect x="553.3" y="281.4" width="1.6" height="1.2" fill="#5a3040" opacity="0.7"/>
<path d="M467.8 310.5H490.7Q491.5 310.5 491.5 311.3V321.1Q491.5 323.3 489.3 323.3H487.7Q484.5 323.3 484.5 326.5V342H474V326.5Q474 323.3 470.8 323.3H469.2Q467 323.3 467 321.1V311.3Q467 310.5 467.8 310.5Z" fill="url(#pk2)"/>
<rect x="473.3" y="315.4" width="1.6" height="1.2" fill="#5a3040" opacity="0.7"/>
<path d="M504.7 310.5H526.9Q527.7 310.5 527.7 311.3V321.1Q527.7 323.3 525.5 323.3H523.9Q520.7 323.3 520.7 326.5V342H509V326.5Q509 323.3 505.8 323.3H506.1Q503.9 323.3 503.9 321.1V311.3Q503.9 310.5 504.7 310.5Z" fill="url(#pk3)"/>
<rect x="511.3" y="314.4" width="1.6" height="1.2" fill="#5a3040" opacity="0.7"/>
<path d="M543.6 310.5H566.5Q567.3 310.5 567.3 311.3V321.1Q567.3 323.3 565.1 323.3H563.5Q560.3 323.3 560.3 326.5V342H548.7V326.5Q548.7 323.3 545.5 323.3H545Q542.8 323.3 542.8 321.1V311.3Q542.8 310.5 543.6 310.5Z" fill="url(#pk2)"/>
<rect x="550.3" y="316.4" width="1.6" height="1.2" fill="#5a3040" opacity="0.7"/>
<path d="M467.5 360.3H489.2Q490 360.3 490 361.1V371.5Q490 373.7 487.8 373.7H489.2Q486 373.7 486 376.9V392.7H471.3V376.9Q471.3 373.7 468.1 373.7H468.9Q466.7 373.7 466.7 371.5V361.1Q466.7 360.3 467.5 360.3Z" fill="url(#pk2)"/>
<rect x="475.3" y="367.4" width="1.6" height="1.2" fill="#5a3040" opacity="0.7"/>
<text x="296" y="123.85" font-size="3.8" fill="#404040" textLength="21.5" lengthAdjust="spacingAndGlyphs">IHJ0011</text>
<text x="353" y="123.85" font-size="3.8" fill="#404040" textLength="22" lengthAdjust="spacingAndGlyphs">IHJ0051</text>
<text x="416" y="123.85" font-size="3.8" fill="#404040" textLength="22" lengthAdjust="spacingAndGlyphs">IHJ0012</text>
<text x="82.5" y="151" font-size="4.2" fill="#666" text-anchor="middle" transform="rotate(-90 82.5 151)" dy="1.5">25</text>
<text x="29" y="156.05" font-size="3.8" fill="#404040" textLength="30" lengthAdjust="spacingAndGlyphs">IGAJ0007 -05</text>
<text x="35" y="179.35" font-size="3.8" fill="#404040" textLength="23" lengthAdjust="spacingAndGlyphs">IGK0068</text>
<text x="58" y="197" font-size="4.2" fill="#666" text-anchor="middle" transform="rotate(-90 58 197)" dy="1.5">24</text>
<text x="86" y="194.35" font-size="3.8" fill="#404040" textLength="26.5" lengthAdjust="spacingAndGlyphs">3/8-32UNF</text>
<text x="86" y="200.35" font-size="3.8" fill="#404040" textLength="31" lengthAdjust="spacingAndGlyphs">IGF0007-05</text>
<text x="86" y="205.05" font-size="3.8" fill="#404040" textLength="26.5" lengthAdjust="spacingAndGlyphs">3/8-24UNF</text>
<text x="20" y="243.35" font-size="3.8" fill="#404040" textLength="23.3" lengthAdjust="spacingAndGlyphs">IGS0057</text>
<text x="33" y="259.85" font-size="3.6" fill="#666" text-anchor="middle" textLength="11.4" lengthAdjust="spacingAndGlyphs">Φ6.5</text>
<text x="62" y="243.35" font-size="3.8" fill="#404040" textLength="23.3" lengthAdjust="spacingAndGlyphs">IGS0058</text>
<text x="74" y="259.85" font-size="3.6" fill="#666" text-anchor="middle" textLength="7.6" lengthAdjust="spacingAndGlyphs">Φ8</text>
<text x="103.3" y="243.35" font-size="3.8" fill="#404040" textLength="24" lengthAdjust="spacingAndGlyphs">IGS0059</text>
<text x="116.3" y="259.85" font-size="3.6" fill="#666" text-anchor="middle" textLength="13.4" lengthAdjust="spacingAndGlyphs">Φ9.5</text>
<text x="132" y="250" font-size="4.2" fill="#666" text-anchor="middle" transform="rotate(-90 132 250)" dy="1.5">30</text>
<text x="19.3" y="279.65" font-size="3.8" fill="#404040" textLength="23.4" lengthAdjust="spacingAndGlyphs">IGS0060</text>
<text x="30.15" y="297.25" font-size="3.6" fill="#666" text-anchor="middle" textLength="10.5" lengthAdjust="spacingAndGlyphs">Φ11</text>
<text x="61.3" y="279.65" font-size="3.8" fill="#404040" textLength="23.4" lengthAdjust="spacingAndGlyphs">IGS0061</text>
<text x="73" y="297.25" font-size="3.6" fill="#666" text-anchor="middle" textLength="15.4" lengthAdjust="spacingAndGlyphs">Φ12.5</text>
<text x="103" y="279.65" font-size="3.8" fill="#404040" textLength="23.7" lengthAdjust="spacingAndGlyphs">IGS0062</text>
<text x="115" y="297.25" font-size="3.6" fill="#666" text-anchor="middle" textLength="10.5" lengthAdjust="spacingAndGlyphs">Φ16</text>
<text x="131.5" y="287.5" font-size="4.2" fill="#666" text-anchor="middle" transform="rotate(-90 131.5 287.5)" dy="1.5">25</text>
<text x="220" y="178.95" font-size="3.8" fill="#404040" textLength="24" lengthAdjust="spacingAndGlyphs">IGK0007</text>
<text x="186" y="205" font-size="4.2" fill="#666" text-anchor="middle" transform="rotate(-90 186 205)" dy="1.5">52</text>
<text x="220" y="194.95" font-size="3.8" fill="#404040" textLength="27" lengthAdjust="spacingAndGlyphs">3/8-32UNF</text>
<text x="220" y="209.95" font-size="3.8" fill="#404040" textLength="37" lengthAdjust="spacingAndGlyphs">15/32-16UNF</text>
<text x="220" y="215.35" font-size="3.8" fill="#404040" textLength="34" lengthAdjust="spacingAndGlyphs">IGF0006-05</text>
<text x="360" y="153" font-size="4.2" fill="#666" text-anchor="middle" transform="rotate(-90 360 153)" dy="1.5">50</text>
<text x="303" y="155.35" font-size="3.8" fill="#404040" textLength="33" lengthAdjust="spacingAndGlyphs">IGU0006-05</text>
<text x="370" y="178.75" font-size="3.8" fill="#404040" textLength="21" lengthAdjust="spacingAndGlyphs">IGK0005</text>
<text x="322" y="205" font-size="4.2" fill="#666" text-anchor="middle" transform="rotate(-90 322 205)" dy="1.5">31</text>
<text x="371" y="193.85" font-size="3.8" fill="#404040" textLength="27" lengthAdjust="spacingAndGlyphs">3/8-32UNF</text>
<text x="371" y="206.35" font-size="3.8" fill="#404040" textLength="15" lengthAdjust="spacingAndGlyphs">1"-18</text>
<text x="371" y="213.35" font-size="3.8" fill="#404040" textLength="37" lengthAdjust="spacingAndGlyphs">IGF0002-05</text>
<text x="240.7" y="241.95" font-size="3.8" fill="#404040" textLength="23.3" lengthAdjust="spacingAndGlyphs">IGS0026</text>
<text x="252.35" y="266.55" font-size="3.6" fill="#666" text-anchor="middle" textLength="12.7" lengthAdjust="spacingAndGlyphs">Φ9.5</text>
<text x="304.7" y="241.95" font-size="3.8" fill="#404040" textLength="23.3" lengthAdjust="spacingAndGlyphs">IGS0027</text>
<text x="316.3" y="266.55" font-size="3.6" fill="#666" text-anchor="middle" textLength="14" lengthAdjust="spacingAndGlyphs">Φ12.5</text>
<text x="335" y="253" font-size="4.2" fill="#666" text-anchor="middle" transform="rotate(-90 335 253)" dy="1.5">40</text>
<text x="378" y="248.65" font-size="3.8" fill="#404040" textLength="24" lengthAdjust="spacingAndGlyphs">IGS0029</text>
<text x="407" y="257" font-size="4.2" fill="#666" text-anchor="middle" transform="rotate(-90 407 257)" dy="1.5">24</text>
<text x="240.7" y="277.35" font-size="3.8" fill="#404040" textLength="23.3" lengthAdjust="spacingAndGlyphs">IGS0028</text>
<text x="251.7" y="302.55" font-size="3.6" fill="#666" text-anchor="middle" textLength="10.5" lengthAdjust="spacingAndGlyphs">Φ16</text>
<text x="304.7" y="277.35" font-size="3.8" fill="#404040" textLength="23.3" lengthAdjust="spacingAndGlyphs">IGS0029</text>
<text x="316.5" y="302.55" font-size="3.6" fill="#666" text-anchor="middle" textLength="16.3" lengthAdjust="spacingAndGlyphs">Φ19.5</text>
<text x="335" y="288" font-size="4.2" fill="#666" text-anchor="middle" transform="rotate(-90 335 288)" dy="1.5">42</text>
<text x="21" y="323.95" font-size="3.8" fill="#404040" textLength="23" lengthAdjust="spacingAndGlyphs">IGS0007</text>
<text x="32" y="348.25" font-size="3.6" fill="#666" text-anchor="middle" textLength="12" lengthAdjust="spacingAndGlyphs">Φ6.5</text>
<text x="68" y="323.95" font-size="3.8" fill="#404040" textLength="24" lengthAdjust="spacingAndGlyphs">IGS0008</text>
<text x="80" y="348.25" font-size="3.6" fill="#666" text-anchor="middle" textLength="7.6" lengthAdjust="spacingAndGlyphs">Φ8</text>
<text x="116" y="323.95" font-size="3.8" fill="#404040" textLength="23.3" lengthAdjust="spacingAndGlyphs">IGS0009</text>
<text x="127.35" y="348.25" font-size="3.6" fill="#666" text-anchor="middle" textLength="13.3" lengthAdjust="spacingAndGlyphs">Φ9.5</text>
<text x="163.3" y="323.95" font-size="3.8" fill="#404040" textLength="23.4" lengthAdjust="spacingAndGlyphs">IGS0010</text>
<text x="174.65" y="348.25" font-size="3.6" fill="#666" text-anchor="middle" textLength="10.5" lengthAdjust="spacingAndGlyphs">Φ11</text>
<text x="211.3" y="323.95" font-size="3.8" fill="#404040" textLength="22.9" lengthAdjust="spacingAndGlyphs">IGS0011</text>
<text x="221.95" y="347.25" font-size="3.6" fill="#666" text-anchor="middle" textLength="15.5" lengthAdjust="spacingAndGlyphs">Φ12.5</text>
<text x="257.5" y="323.85" font-size="3.8" fill="#404040" textLength="25.8" lengthAdjust="spacingAndGlyphs">IGS0012</text>
<text x="268.5" y="347.25" font-size="3.6" fill="#666" text-anchor="middle" textLength="10.5" lengthAdjust="spacingAndGlyphs">Φ16</text>
<text x="295" y="335" font-size="4.2" fill="#666" text-anchor="middle" transform="rotate(-90 295 335)" dy="1.5">25</text>
<text x="350.8" y="323.55" font-size="3.8" fill="#404040" textLength="23.4" lengthAdjust="spacingAndGlyphs">IGS0063</text>
<text x="362" y="349.95" font-size="3.6" fill="#666" text-anchor="middle" textLength="16.3" lengthAdjust="spacingAndGlyphs">Φ19.5</text>
<text x="20.7" y="359.35" font-size="3.8" fill="#404040" textLength="23.3" lengthAdjust="spacingAndGlyphs">IGS0040</text>
<text x="32" y="396.25" font-size="3.6" fill="#666" text-anchor="middle" textLength="12" lengthAdjust="spacingAndGlyphs">Φ6.5</text>
<text x="56.7" y="359.35" font-size="3.8" fill="#404040" textLength="22.9" lengthAdjust="spacingAndGlyphs">IGS0045</text>
<text x="67.2" y="396.25" font-size="3.6" fill="#666" text-anchor="middle" textLength="7.6" lengthAdjust="spacingAndGlyphs">Φ8</text>
<text x="98.7" y="359.35" font-size="3.8" fill="#404040" textLength="23.3" lengthAdjust="spacingAndGlyphs">IGS0047</text>
<text x="110.3" y="396.25" font-size="3.6" fill="#666" text-anchor="middle" textLength="13.4" lengthAdjust="spacingAndGlyphs">Φ9.5</text>
<text x="142" y="359.35" font-size="3.8" fill="#404040" textLength="23.3" lengthAdjust="spacingAndGlyphs">IGS0048</text>
<text x="152.5" y="396.25" font-size="3.6" fill="#666" text-anchor="middle" textLength="10.5" lengthAdjust="spacingAndGlyphs">Φ11</text>
<text x="181.3" y="359.35" font-size="3.8" fill="#404040" textLength="23.4" lengthAdjust="spacingAndGlyphs">IGS0049</text>
<text x="193" y="396.25" font-size="3.6" fill="#666" text-anchor="middle" textLength="16.3" lengthAdjust="spacingAndGlyphs">Φ12.5</text>
<text x="217" y="378" font-size="4.2" fill="#666" text-anchor="middle" transform="rotate(-90 217 378)" dy="1.5">70</text>
<text x="537" y="178.95" font-size="3.8" fill="#404040" textLength="24" lengthAdjust="spacingAndGlyphs">IGK0006</text>
<text x="500" y="206" font-size="4.2" fill="#666" text-anchor="middle" transform="rotate(-90 500 206)" dy="1.5">45</text>
<text x="537" y="194.95" font-size="3.8" fill="#404040" textLength="28" lengthAdjust="spacingAndGlyphs">3/8-32UNF</text>
<text x="537" y="209.95" font-size="3.8" fill="#404040" textLength="28" lengthAdjust="spacingAndGlyphs">3/4-16UNF</text>
<text x="537" y="215.95" font-size="3.8" fill="#404040" textLength="32" lengthAdjust="spacingAndGlyphs">IGF0001-10</text>
<text x="468.3" y="241.75" font-size="3.8" fill="#404040" textLength="23.7" lengthAdjust="spacingAndGlyphs">IGS0066</text>
<text x="480" y="265.25" font-size="3.6" fill="#666" text-anchor="middle" textLength="12" lengthAdjust="spacingAndGlyphs">Φ6.5</text>
<text x="504" y="241.75" font-size="3.8" fill="#404040" textLength="22" lengthAdjust="spacingAndGlyphs">IGS0067</text>
<text x="515.5" y="265.25" font-size="3.6" fill="#666" text-anchor="middle" textLength="7.6" lengthAdjust="spacingAndGlyphs">Φ8</text>
<text x="543.3" y="241.75" font-size="3.8" fill="#404040" textLength="23.4" lengthAdjust="spacingAndGlyphs">IGS0068</text>
<text x="554.5" y="265.25" font-size="3.6" fill="#666" text-anchor="middle" textLength="13" lengthAdjust="spacingAndGlyphs">Φ9.5</text>
<text x="575" y="252" font-size="4.2" fill="#666" text-anchor="middle" transform="rotate(-90 575 252)" dy="1.5">40</text>
<text x="468.3" y="274.35" font-size="3.8" fill="#404040" textLength="23.7" lengthAdjust="spacingAndGlyphs">IGS0064</text>
<text x="479" y="297.65" font-size="3.6" fill="#666" text-anchor="middle" textLength="10.5" lengthAdjust="spacingAndGlyphs">Φ11</text>
<text x="504" y="274.35" font-size="3.8" fill="#404040" textLength="22" lengthAdjust="spacingAndGlyphs">IGS0065</text>
<text x="514.5" y="297.65" font-size="3.6" fill="#666" text-anchor="middle" textLength="15" lengthAdjust="spacingAndGlyphs">Φ12.5</text>
<text x="544" y="274.35" font-size="3.8" fill="#404040" textLength="22.7" lengthAdjust="spacingAndGlyphs">IGS0061</text>
<text x="555" y="297.65" font-size="3.6" fill="#666" text-anchor="middle" textLength="16.3" lengthAdjust="spacingAndGlyphs">Φ19.5</text>
<text x="575" y="285" font-size="4.2" fill="#666" text-anchor="middle" transform="rotate(-90 575 285)" dy="1.5">45</text>
<text x="468" y="309.05" font-size="3.8" fill="#404040" textLength="23" lengthAdjust="spacingAndGlyphs">IGS0031</text>
<text x="479.35" y="346.75" font-size="3.6" fill="#666" text-anchor="middle" textLength="10.7" lengthAdjust="spacingAndGlyphs">Φ6.5</text>
<text x="504" y="309.05" font-size="3.8" fill="#404040" textLength="23" lengthAdjust="spacingAndGlyphs">IGS0032</text>
<text x="515.15" y="346.75" font-size="3.6" fill="#666" text-anchor="middle" textLength="7.6" lengthAdjust="spacingAndGlyphs">Φ8</text>
<text x="544" y="309.05" font-size="3.8" fill="#404040" textLength="22.7" lengthAdjust="spacingAndGlyphs">IGS0033</text>
<text x="554.5" y="346.75" font-size="3.6" fill="#666" text-anchor="middle" textLength="13.4" lengthAdjust="spacingAndGlyphs">Φ9.5</text>
<text x="575" y="326" font-size="4.2" fill="#666" text-anchor="middle" transform="rotate(-90 575 326)" dy="1.5">57</text>
<text x="468" y="359.05" font-size="3.8" fill="#404040" textLength="22.7" lengthAdjust="spacingAndGlyphs">IGS0034</text>
<text x="479.15" y="396.65" font-size="3.6" fill="#666" text-anchor="middle" textLength="15.7" lengthAdjust="spacingAndGlyphs">Φ12.5</text>
<text x="499" y="377" font-size="4.2" fill="#666" text-anchor="middle" transform="rotate(-90 499 377)" dy="1.5">57</text>
</g>
<use href="#content" filter="url(#sb)" opacity="0.5"/>
</svg></div></body></html>
